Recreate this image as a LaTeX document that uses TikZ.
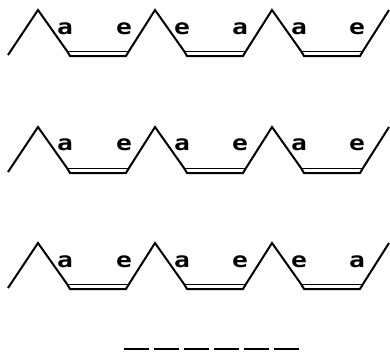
\documentclass[tikz,border=0pt]{standalone}
\usepackage{fontspec}
\newfontfamily\typefont{DejaVu Sans Mono}
\newcommand{\wideglyph}[1]{\scalebox{1.25}[1]{#1}}
\tikzset{
  zig/.style={line width=2pt, line join=miter, miter limit=10},
  band/.style={line width=0.9pt},
  letter/.style={font=\typefont\bfseries\fontsize{21}{21}\selectfont, inner sep=0pt, anchor=base},
  dashline/.style={line width=2.8pt, dash pattern=on 25pt off 5pt}
}
\begin{document}
\begin{tikzpicture}[x=1pt,y=-1pt]
\useasboundingbox (0,0) rectangle (390,351);
\foreach \yo/\rw in {0/1,117/2,233/3}{
  \begin{scope}[yshift=-\yo pt]
  \draw[zig] (8,55) -- (38,10) -- (67,51) -- (70,56) -- (126,56) -- (129,51) -- (155,10)
     -- (184,51) -- (187,56) -- (243,56) -- (246,51) -- (272,10)
     -- (301,51) -- (304,56) -- (360,56) -- (363,51) -- (389,10);
  \foreach \tx in {67,184,301}{
    \draw[band] (\tx,51) -- ({\tx+62},51);
  }
  \end{scope}
}
% row 1
\node[letter] (r1a) at (65,34) {\wideglyph{a}};
\node[letter] (r1b) at (124,34) {\wideglyph{e}};
\node[letter] (r1c) at (182,34) {\wideglyph{e}};
\node[letter] (r1d) at (240,34) {\wideglyph{a}};
\node[letter] (r1e) at (299,34) {\wideglyph{a}};
\node[letter] (r1f) at (357,34) {\wideglyph{e}};
% row 2
\node[letter] (r2a) at (65,150) {\wideglyph{a}};
\node[letter] (r2b) at (124,150) {\wideglyph{e}};
\node[letter] (r2c) at (182,150) {\wideglyph{a}};
\node[letter] (r2d) at (240,150) {\wideglyph{e}};
\node[letter] (r2e) at (299,150) {\wideglyph{a}};
\node[letter] (r2f) at (357,150) {\wideglyph{e}};
% row 3
\node[letter] (r3a) at (65,267) {\wideglyph{a}};
\node[letter] (r3b) at (124,267) {\wideglyph{e}};
\node[letter] (r3c) at (182,267) {\wideglyph{a}};
\node[letter] (r3d) at (240,267) {\wideglyph{e}};
\node[letter] (r3e) at (299,267) {\wideglyph{e}};
\node[letter] (r3f) at (357,267) {\wideglyph{a}};
% dashes
\coordinate (d1) at (124,349);
\coordinate (d2) at (299,349);
\draw[dashline] (d1) -- (d2);
\end{tikzpicture}
\end{document}
